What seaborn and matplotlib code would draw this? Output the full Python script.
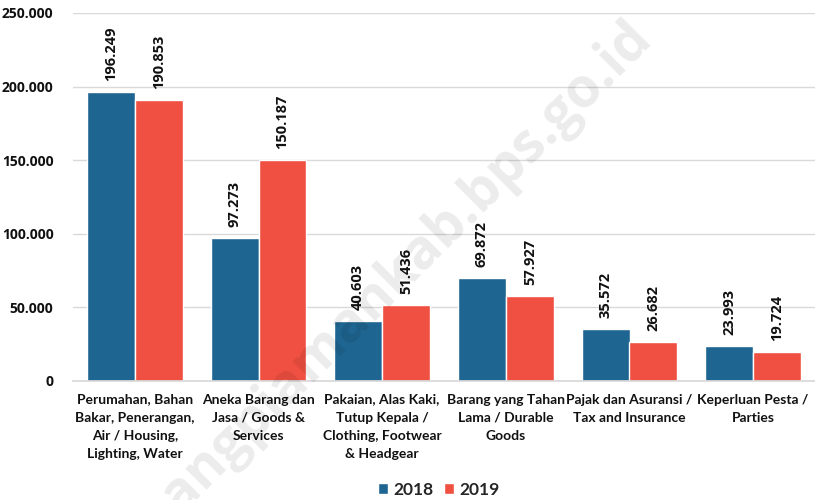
import matplotlib
matplotlib.use("Agg")
import matplotlib.pyplot as plt
import seaborn as sns
import pandas as pd
from matplotlib.ticker import FuncFormatter

categories = [
    "Perumahan, Bahan\nBakar, Penerangan,\nAir / Housing,\nLighting, Water",
    "Aneka Barang dan\nJasa / Goods &\nServices",
    "Pakaian, Alas Kaki,\nTutup Kepala /\nClothing, Footwear\n& Headgear",
    "Barang yang Tahan\nLama / Durable\nGoods",
    "Pajak dan Asuransi /\nTax and Insurance",
    "Keperluan Pesta /\nParties",
]
years = ["2018", "2019"]
values_2018 = [196249, 97273, 40603, 69872, 35572, 23993]
values_2019 = [190853, 150187, 51436, 57927, 26682, 19724]
y_ticks = [0, 50000, 100000, 150000, 200000, 250000]

df = pd.DataFrame({
    "kategori": categories * 2,
    "tahun": [years[0]] * len(categories) + [years[1]] * len(categories),
    "nilai": values_2018 + values_2019,
})

sns.set_theme(style="white")
plt.rcParams["font.family"] = ["Open Sans", "DejaVu Sans"]

fig = plt.figure(figsize=(8.15, 5.0), dpi=100)
ax = fig.add_axes([73 / 815, 1 - 381 / 500, 742 / 815, 368 / 500])

# watermark behind the chart
fig.text(0.484, 0.445, "bangpiamankab.bps.go.id", rotation=45, fontsize=39.5,
         fontweight="bold", color="#000000", alpha=0.08, ha="center",
         va="center", family="Open Sans", zorder=0)
ax.patch.set_alpha(0)

palette = {"2018": "#1f6591", "2019": "#ef5041"}
sns.barplot(data=df, x="kategori", y="nilai", hue="tahun", palette=palette,
            width=0.775, saturation=1, ax=ax, legend=True)

ax.set_ylim(0, 250000)
ax.set_yticks(y_ticks)
ax.yaxis.set_major_formatter(FuncFormatter(
    lambda v, _: "0" if v == 0 else f"{int(v):,}".replace(",", ".")))
ax.grid(axis="y", color="#d9d9d9", linewidth=1)
ax.set_axisbelow(True)
for side in ["top", "right", "left"]:
    ax.spines[side].set_visible(False)
ax.spines["bottom"].set_color("#d9d9d9")
ax.tick_params(axis="y", length=0, pad=14, labelsize=10, labelcolor="#111111")
ax.tick_params(axis="x", length=0, pad=9)
ax.set_xlabel("")
ax.set_ylabel("")
for lbl in ax.get_yticklabels():
    lbl.set_fontweight("bold")
for lbl in ax.get_xticklabels():
    lbl.set_fontfamily("Lato")
    lbl.set_fontweight("bold")
    lbl.set_fontsize(10)
    lbl.set_linespacing(1.6)
    lbl.set_verticalalignment("top")
    lbl.set_color("#111111")

for container in ax.containers:
    labels = [f"{int(v):,}".replace(",", ".") for v in container.datavalues]
    ax.bar_label(container, labels=labels, rotation=90, padding=8,
                 fontsize=10.5, fontweight="bold", color="#111111")

handles, _ = ax.get_legend_handles_labels()
ax.legend(handles, years, loc="center", bbox_to_anchor=(0.493, -0.296),
          ncol=2, frameon=False, handlelength=0.6, handleheight=0.6,
          handletextpad=0.3, columnspacing=0.6,
          prop={"family": "Lato", "weight": "bold", "size": 12.5})

fig.savefig("out.png", dpi=100, facecolor="white")
